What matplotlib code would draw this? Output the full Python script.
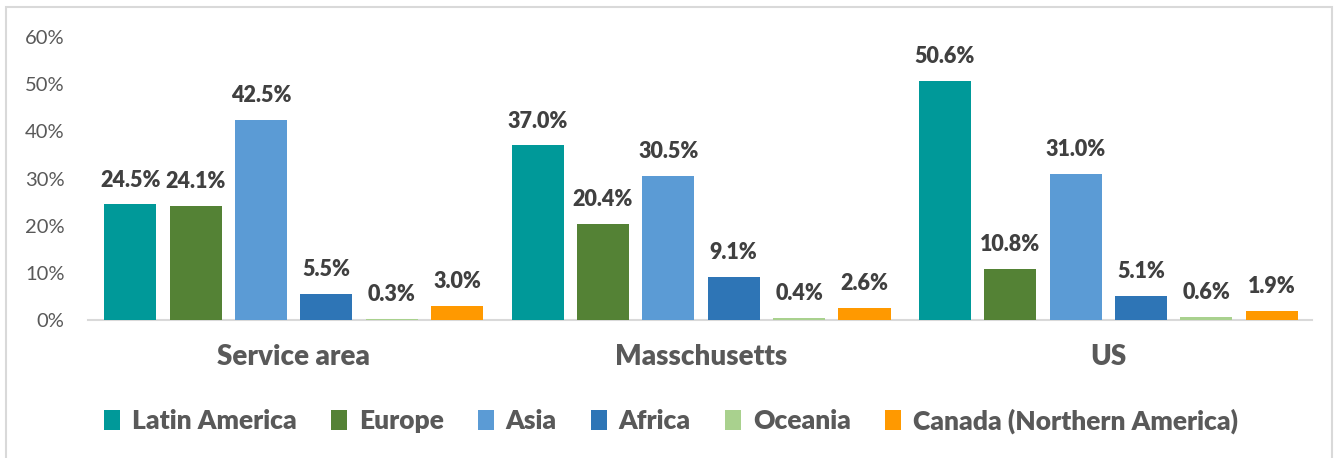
import numpy as np
import matplotlib
matplotlib.use('Agg')
import matplotlib.pyplot as plt
from matplotlib.patches import Rectangle, Patch

# Data
groups = ['Service area', 'Masschusetts', 'US']
regions = ['Latin America', 'Europe', 'Asia', 'Africa', 'Oceania', 'Canada (Northern America)']
values = {
    'Latin America': [24.5, 37.0, 50.6],
    'Europe': [24.1, 20.4, 10.8],
    'Asia': [42.5, 30.5, 31.0],
    'Africa': [5.5, 9.1, 5.1],
    'Oceania': [0.3, 0.4, 0.6],
    'Canada (Northern America)': [3.0, 2.6, 1.9],
}
colors = ['#009999', '#548235', '#5B9BD5', '#2E75B6', '#A9D18E', '#FF9900']
yticks = [0, 10, 20, 30, 40, 50, 60]

plt.rcParams['font.family'] = ['Lato', 'DejaVu Sans']

fig = plt.figure(figsize=(13.38, 4.58), dpi=100)
ax = fig.add_axes([88 / 1338, 1 - 320 / 458, (1312 - 88) / 1338, (320 - 37) / 458])

# outer frame
fig.add_artist(Rectangle((6 / 1338, -0.05), (1332 - 6) / 1338, 1.05 - 7 / 458,
                         transform=fig.transFigure, fill=False,
                         edgecolor='#D9D9D9', linewidth=1.5))

x = np.arange(len(groups))
step = 0.1605
width = 0.128
for i, (reg, col) in enumerate(zip(regions, colors)):
    pos = x + (i - 2.5) * step
    ax.bar(pos, values[reg], width, color=col, linewidth=0, zorder=3)
    for p, v in zip(pos, values[reg]):
        ax.annotate(f'{v:.1f}%', (p, v), xytext=(0, 10), textcoords='offset points',
                    ha='center', va='bottom', fontsize=15.5, fontweight='heavy', color='#404040')

ax.set_xlim(-0.505, 2.5)
ax.set_ylim(0, 60)
ax.set_yticks(yticks)
ax.set_yticklabels([f'{t}%' for t in yticks], fontsize=14.5, color='#595959')
ax.set_xticks(x)
ax.set_xticklabels(groups, fontsize=20, fontweight='heavy', color='#595959')
ax.tick_params(axis='y', length=0, pad=17)
ax.tick_params(axis='x', length=0, pad=17)
for s in ['top', 'right', 'left']:
    ax.spines[s].set_visible(False)
ax.spines['bottom'].set_color('#D9D9D9')
ax.spines['bottom'].set_linewidth(1.5)
ax.spines['bottom'].set_zorder(1)

handles = [Patch(facecolor=c, edgecolor='none', label=r) for r, c in zip(regions, colors)]
leg = fig.legend(handles=handles, loc='center', bbox_to_anchor=(671 / 1338, 1 - 421 / 458),
                 ncol=6, frameon=False, handlelength=0.6, handleheight=0.8,
                 handletextpad=0.45, columnspacing=1.3,
                 prop={'size': 19, 'weight': 'heavy'})
for t in leg.get_texts():
    t.set_color('#595959')

fig.savefig('out.png', dpi=100)
